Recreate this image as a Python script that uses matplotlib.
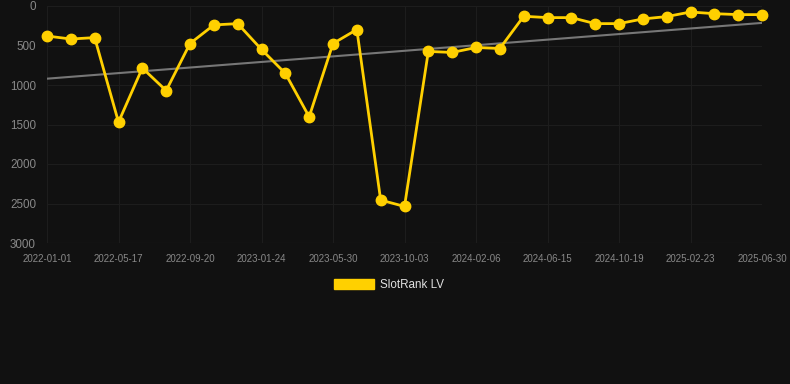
import matplotlib
matplotlib.use("Agg")
import matplotlib.pyplot as plt
import numpy as np
from matplotlib.patches import Patch

plt.rcParams['font.family'] = ['Liberation Sans', 'DejaVu Sans']

tick_labels = ["2022-01-01", "2022-05-17", "2022-09-20", "2023-01-24", "2023-05-30",
               "2023-10-03", "2024-02-06", "2024-06-15", "2024-10-19", "2025-02-23",
               "2025-06-30"]
ranks = [380, 418, 400, 1470, 785, 1071, 475, 240, 223, 550, 853, 1403, 475, 298,
         2457, 2537, 575, 588, 525, 538, 130, 147, 147, 223, 223, 164, 134, 76, 97, 109, 109]
trend_ends = [920, 214]
series_name = "SlotRank LV"

bg = "#111111"
gold = "#FFD000"

fig = plt.figure(figsize=(7.9, 3.84), dpi=100, facecolor=bg)
ax = fig.add_axes([47/790, 1-243/384, (762-47)/790, (243-6)/384], facecolor=bg)

x = np.arange(len(ranks))
ax.plot([x[0], x[-1]], trend_ends, color="#777777", lw=1.5, zorder=2)
ax.plot(x, ranks, color=gold, lw=2.0, marker="o", ms=7.5, zorder=3, clip_on=False)

ax.set_xlim(x[0], x[-1])
ax.set_ylim(3000, 0)
ax.set_yticks([0, 500, 1000, 1500, 2000, 2500, 3000])
ax.set_xticks(x[::3])
ax.set_xticklabels(tick_labels)
ax.tick_params(axis="x", labelsize=7, colors="#888888", length=0, pad=8)
ax.tick_params(axis="y", labelsize=8.4, colors="#888888", length=0, pad=8)
ax.grid(True, color="#1d1d1d", lw=0.8)
ax.axhline(3000, color="#2a2a2a", lw=0.8, zorder=1)
ax.set_axisbelow(True)
for s in ax.spines.values():
    s.set_visible(False)

handle = Patch(facecolor=gold, edgecolor=gold, label=series_name)
fig.legend(handles=[handle], loc="center", bbox_to_anchor=(389/790, 1-285/384), frameon=False,
           fontsize=8.4, labelcolor="#e0e0e0", handlelength=3.4, handleheight=1.0,
           handletextpad=0.5)

fig.savefig("out.png", dpi=100, facecolor=bg)
